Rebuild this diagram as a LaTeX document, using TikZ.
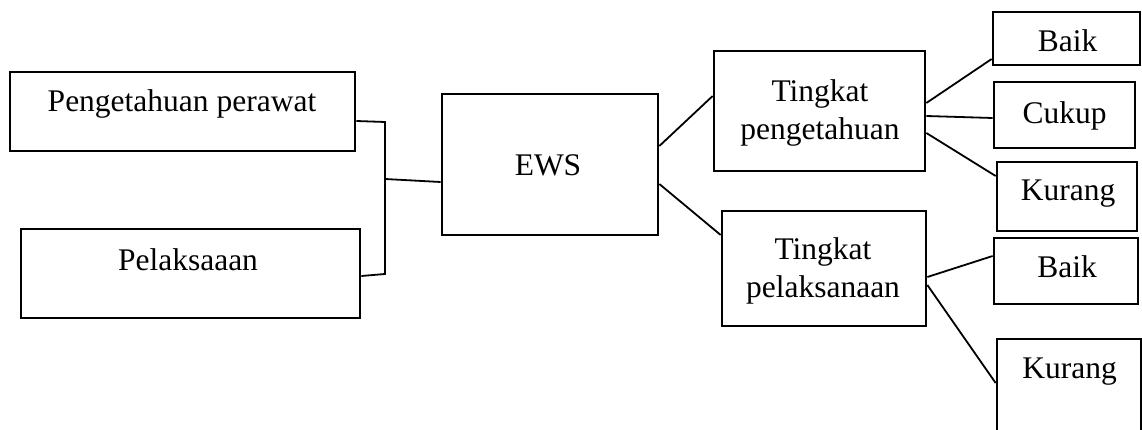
\documentclass[tikz,border=0pt]{standalone}
\usepackage{fontspec}
\setmainfont{Liberation Serif}
\begin{document}
\begin{tikzpicture}[x=1pt,y=-1pt,
  box/.style={draw, rectangle, inner sep=0pt, line width=2.7pt},
  lbl/.style={anchor=base, inner sep=0pt, align=center, font=\fontsize{31.5}{38}\selectfont},
  conn/.style={line width=1.8pt}]
\useasboundingbox (0,0) rectangle (1142,430);
\fill[white] (0,0) rectangle (1142,430);
\clip (0,0) rectangle (1142,430);
% boxes
\node[box, minimum width=345pt, minimum height=79pt] (b1) at (182.5,111.5) {};
\node[box, minimum width=339pt, minimum height=89pt] (b2) at (190.5,273.5) {};
\node[box, minimum width=216pt, minimum height=141pt] (ews) at (550,164.5) {};
\node[box, minimum width=211pt, minimum height=120pt] (tp) at (819.5,111) {};
\node[box, minimum width=204pt, minimum height=115pt] (tpl) at (824,268.5) {};
\node[box, minimum width=147pt, minimum height=53pt] (baikA) at (1066.5,38.5) {};
\node[box, minimum width=141pt, minimum height=66pt] (cukup) at (1064.5,115) {};
\node[box, minimum width=140pt, minimum height=69pt] (kurangA) at (1067,196.5) {};
\node[box, minimum width=144pt, minimum height=66pt] (baikB) at (1066,271) {};
\node[box, minimum width=144pt, minimum height=106pt] (kurangB) at (1069,392) {};
% labels
\node[lbl] (t1) at (182,112) {Pengetahuan perawat};
\node[lbl] (t2) at (188,270) {Pelaksaaan};
\node[lbl] (t3) at (548,176) {EWS};
\node[lbl] (t4) at (820,140) {Tingkat\\pengetahuan};
\node[lbl] (t5) at (823,297) {Tingkat\\pelaksanaan};
\node[lbl] (t6) at (1067.5,52) {Baik};
\node[lbl] (t7) at (1064.5,124) {Cukup};
\node[lbl] (t8) at (1068,201) {Kurang};
\node[lbl] (t9) at (1067,277) {Baik};
\node[lbl] (t10) at (1069.7,378) {Kurang};
% bracket
\coordinate (jt) at (385,122);
\coordinate (jb) at (385,274);
\coordinate (jm) at (385,179);
\draw[conn] ([yshift=-9.5pt]b1.east) -- (jt) -- (jb) -- ([yshift=-2.5pt]b2.east);
\draw[conn] (jm) -- ([yshift=-17.5pt]ews.west);
% connectors
\draw[conn] ([yshift=18.5pt]ews.east) -- ([yshift=15pt]tp.west);
\draw[conn] ([yshift=-19.5pt]ews.east) -- ([yshift=33.5pt]tpl.west);
\draw[conn] ([yshift=8pt]tp.east) -- ([yshift=-20.5pt]baikA.west);
\draw[conn] ([yshift=-5pt]tp.east) -- ([yshift=-3pt]cukup.west);
\draw[conn] ([yshift=-22pt]tp.east) -- ([yshift=20.5pt]kurangA.west);
\draw[conn] ([yshift=-8.5pt]tpl.east) -- ([yshift=15pt]baikB.west);
\draw[conn] ([yshift=-16.5pt]tpl.east) -- ([yshift=9pt]kurangB.west);
\end{tikzpicture}
\end{document}
